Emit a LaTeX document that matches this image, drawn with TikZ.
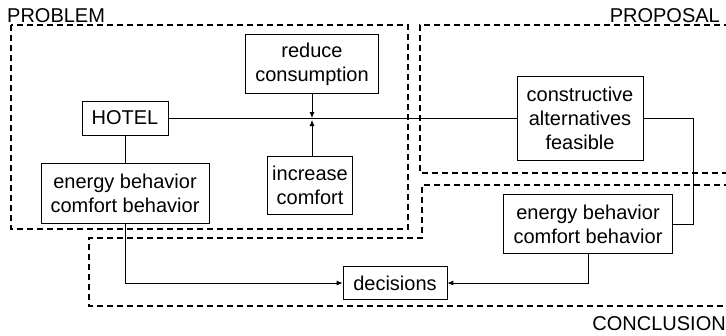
\documentclass[tikz,border=0pt]{standalone}
\usepackage{fontspec}
\setmainfont{Liberation Sans}
\usetikzlibrary{arrows.meta}

\begin{document}
\begin{tikzpicture}[x=1pt, y=-1pt,
    box/.style={draw, line width=0.7pt, align=center, inner sep=0pt, font=\fontsize{20}{24}\selectfont},
    area/.style={line width=1.2pt, dash pattern=on 6pt off 4pt},
    areaname/.style={font=\fontsize{20}{24}\selectfont, inner sep=0pt},
    link/.style={line width=0.8pt},
    arr/.style={link, -{Latex[length=6pt,width=5pt]}}]
    \useasboundingbox (0,0) rectangle (726,335);

    % dashed areas
    \draw[area] (11,25) rectangle (408,229);
    \draw[area] (730,25) -- (420,25) -- (420,173) -- (730,173);
    \draw[area] (730,185) -- (422,185) -- (422,238) -- (89,238) -- (89,306) -- (730,306);

    \node[areaname, anchor=base west] (problem) at (7,22) {PROBLEM};
    \node[areaname, anchor=base east] (proposal) at (720,22) {PROPOSAL};
    \node[areaname, anchor=base east] (conclusion) at (726,330) {CONCLUSION};

    % boxes
    \node[box, minimum width=86pt, minimum height=34pt] (hotel) at (125,118) {HOTEL};
    \node[box, minimum width=133pt, minimum height=59pt] (reduce) at (312,64) {reduce\\consumption};
    \node[box, minimum width=168pt, minimum height=60pt] (energyA) at (125,193) {energy behavior\\comfort behavior};
    \node[box, minimum width=85pt, minimum height=58pt] (comfort) at (310,185) {increase\\comfort};
    \node[box, minimum width=126pt, minimum height=84pt] (alternatives) at (580,118) {constructive\\alternatives\\feasible};
    \node[box, minimum width=169pt, minimum height=59pt] (energyB) at (588,224) {energy behavior\\comfort behavior};
    \node[box, minimum width=104pt, minimum height=33pt] (decisions) at (395,283) {decisions};

    % connectors
    \draw[link] (hotel.east) -- (alternatives.west);
    \draw[arr] (reduce.south) -- (reduce.south |- hotel.east);
    \draw[arr, shorten >=2pt] (comfort.north -| reduce.south) -- (reduce.south |- hotel.east);
    \draw[link] (hotel.south) -- (energyA.north);
    \draw[arr] (energyA.south) |- (decisions.west);
    \draw[arr] (energyB.south) |- (decisions.east);
    \draw[link] (alternatives.east) -- ++(50,0) |- (energyB.east);
\end{tikzpicture}
\end{document}
